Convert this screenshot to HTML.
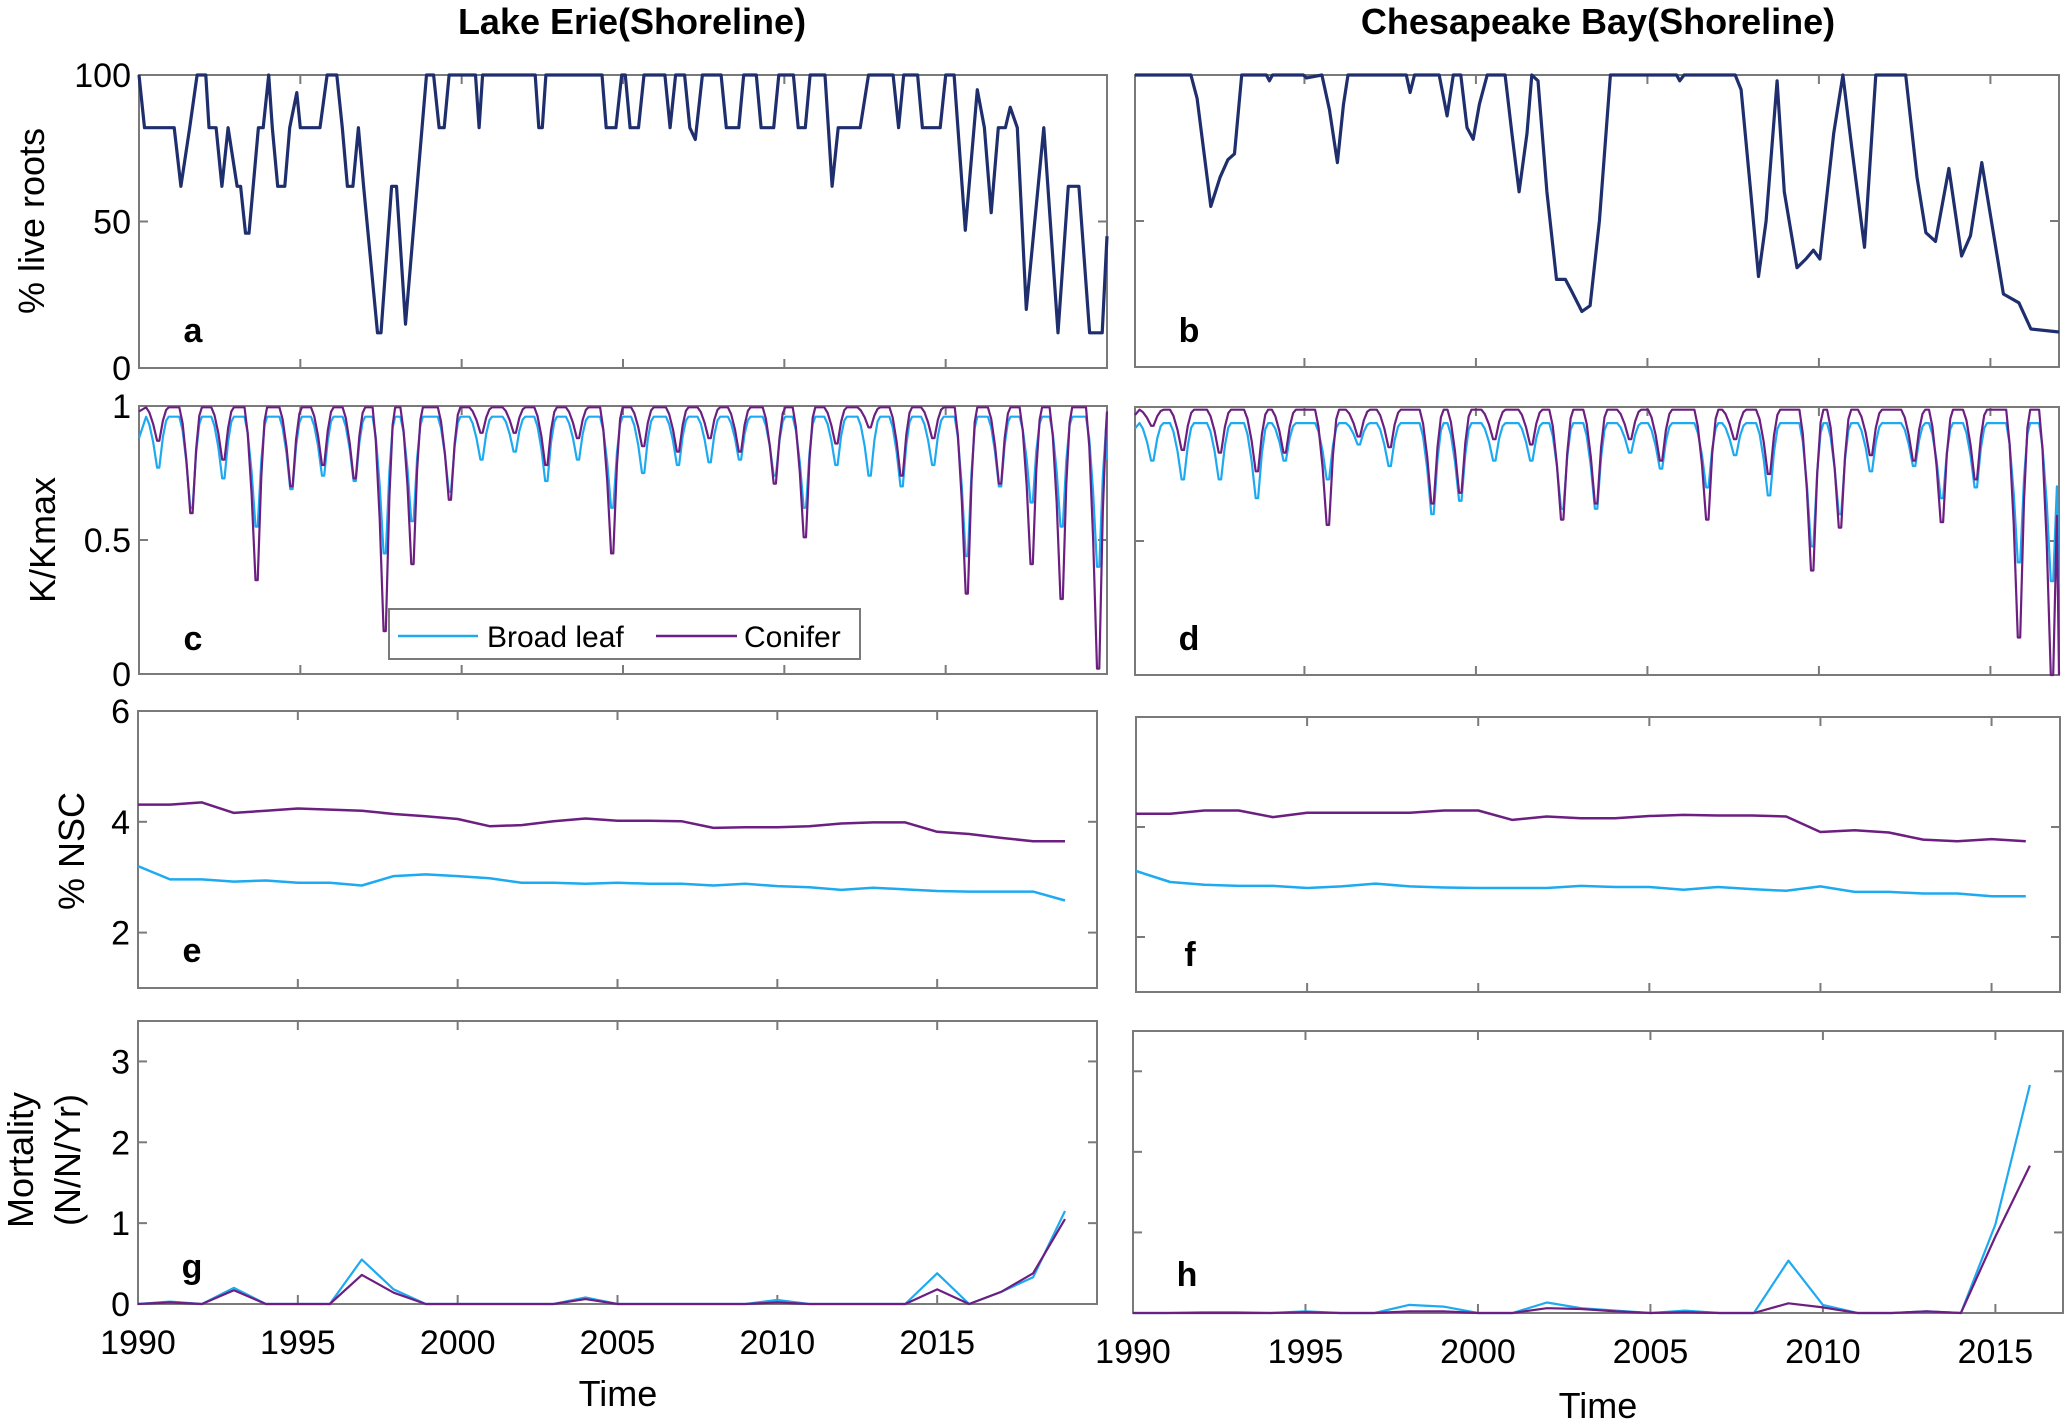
<!DOCTYPE html>
<html>
<head>
<meta charset="utf-8">
<style>
  html,body{margin:0;padding:0;background:#fff;}
  svg{display:block;font-family:"Liberation Sans",sans-serif;}
</style>
</head>
<body>
<svg id="fig" width="2067" height="1424" viewBox="0 0 2067 1424" xmlns="http://www.w3.org/2000/svg">
  <text x="632" y="34" font-size="36" font-weight="bold" text-anchor="middle">Lake Erie(Shoreline)</text>
  <text x="1598" y="34" font-size="36" font-weight="bold" text-anchor="middle">Chesapeake Bay(Shoreline)</text>
  <text transform="translate(44,221) rotate(-90)" font-size="36" text-anchor="middle">% live roots</text>
  <text transform="translate(55,540) rotate(-90)" font-size="36" text-anchor="middle">K/Kmax</text>
  <text transform="translate(84,851) rotate(-90)" font-size="36" text-anchor="middle">% NSC</text>
  <text transform="translate(33,1160) rotate(-90)" font-size="36" text-anchor="middle">Mortality</text>
  <text transform="translate(80,1160) rotate(-90)" font-size="36" text-anchor="middle">(N/N/Yr)</text>
  <text x="618" y="1406" font-size="36" text-anchor="middle">Time</text>
  <text x="1598" y="1418" font-size="36" text-anchor="middle">Time</text>
  <g id="layer"></g>
</svg>
<script>
// ---------- data ----------
const xTickYears = [1990, 1995, 2000, 2005, 2010, 2015];
const xTickLabels = ["1990", "1995", "2000", "2005", "2010", "2015"];

// panel a : Lake Erie % live roots
const aYears = [1990,1990.17,1991.09,1991.3,1991.57,1991.8,1992.07,1992.17,1992.39,1992.57,1992.76,1993.04,1993.15,1993.3,1993.41,1993.7,1993.85,1994.02,1994.13,1994.3,1994.52,1994.67,1994.89,1995.0,1995.61,1995.83,1996.13,1996.3,1996.46,1996.63,1996.8,1996.96,1997.39,1997.5,1997.83,1997.98,1998.26,1998.91,1999.13,1999.3,1999.46,1999.61,2000.43,2000.54,2000.65,2002.28,2002.39,2002.5,2002.61,2004.35,2004.48,2004.78,2004.96,2005.07,2005.22,2005.48,2005.65,2006.3,2006.46,2006.63,2006.91,2007.07,2007.24,2007.46,2008.04,2008.2,2008.59,2008.74,2009.13,2009.28,2009.67,2009.83,2010.28,2010.43,2010.65,2010.8,2011.26,2011.48,2011.67,2012.35,2012.61,2013.37,2013.54,2013.7,2014.13,2014.28,2014.83,2015.0,2015.26,2015.61,2015.98,2016.2,2016.41,2016.63,2016.85,2017.0,2017.22,2017.5,2018.04,2018.48,2018.8,2019.13,2019.46,2019.85,2020.0];
const aValues = [100,82,82,62,82,100,100,82,82,62,82,62,62,46,46,82,82,100,82,62,62,82,94,82,82,100,100,82,62,62,82,62,12,12,62,62,15,100,100,82,82,100,100,82,100,100,82,82,100,100,82,82,100,100,82,82,100,100,82,100,100,82,78,100,100,82,82,100,100,82,82,100,100,82,82,100,100,62,82,82,100,100,82,100,100,82,82,100,100,47,95,82,53,82,82,89,82,20,82,12,62,62,12,12,45];

// panel b : Chesapeake Bay % live roots
const bYears = [1990.06,1991.69,1991.87,1992.27,1992.54,1992.77,1992.96,1993.17,1993.89,1993.98,1994.07,1994.97,1995.06,1995.51,1995.73,1995.96,1996.14,1996.27,1997.97,1998.08,1998.21,1998.93,1999.16,1999.34,1999.56,1999.74,1999.92,2000.1,2000.33,2000.85,2001.05,2001.26,2001.49,2001.63,2001.81,2002.07,2002.35,2002.61,2002.79,2003.09,2003.33,2003.6,2003.92,2005.85,2005.94,2006.07,2007.56,2007.73,2008.01,2008.24,2008.46,2008.78,2008.99,2009.36,2009.62,2009.84,2010.03,2010.43,2010.7,2010.96,2011.33,2011.66,2012.53,2012.86,2013.12,2013.4,2013.79,2014.16,2014.42,2014.75,2015.1,2015.38,2015.83,2016.18,2017.0];
const bValues = [100,100,92,55,65,71,73,100,100,98,100,100,99,100,88,70,90,100,100,94,100,100,86,100,100,82,78,90,100,100,80,60,80,100,98,60,30,30,26,19,21,50,100,100,98,100,100,95,60,31,50,98,60,34,37,40,37,80,100,75,41,100,100,65,46,43,68,38,45,70,45,25,22,13,12];

// panel c : Lake Erie K/Kmax dips
const cDipYears = [1990.6,1991.63,1992.62,1993.65,1994.73,1995.71,1996.69,1997.62,1998.48,1999.64,2000.62,2001.65,2002.63,2003.61,2004.67,2005.63,2006.71,2007.69,2008.63,2009.71,2010.64,2011.62,2012.65,2013.64,2014.62,2015.66,2016.69,2017.67,2018.6,2019.73];
const cBroadMins = [0.77,0.62,0.73,0.55,0.69,0.74,0.72,0.45,0.57,0.68,0.80,0.83,0.72,0.80,0.62,0.75,0.78,0.79,0.80,0.74,0.62,0.78,0.74,0.70,0.78,0.44,0.70,0.64,0.55,0.40];
const cConiferMins = [0.87,0.60,0.80,0.35,0.70,0.78,0.73,0.16,0.41,0.65,0.90,0.90,0.78,0.88,0.45,0.85,0.83,0.88,0.83,0.71,0.51,0.86,0.92,0.74,0.88,0.30,0.71,0.41,0.28,0.02];
const cPlateau = [0.96, 0.995];  // broad, conifer
const cStart = [0.88, 0.98];
const cEnd = [0.80, 0.98];

// panel d : Chesapeake Bay K/Kmax dips
const dDipYears = [1990.57,1991.46,1992.54,1993.62,1994.43,1995.69,1996.59,1997.49,1998.74,1999.55,2000.54,2001.62,2002.52,2003.51,2004.5,2005.4,2006.75,2007.56,2008.55,2009.81,2010.62,2011.52,2012.78,2013.59,2014.58,2015.84,2016.8];
const dBroadMins = [0.80,0.73,0.73,0.66,0.80,0.73,0.86,0.78,0.60,0.65,0.80,0.80,0.62,0.62,0.83,0.77,0.70,0.82,0.67,0.48,0.60,0.76,0.78,0.66,0.70,0.42,0.35];
const dConiferMins = [0.93,0.84,0.83,0.76,0.83,0.56,0.89,0.85,0.64,0.68,0.88,0.86,0.58,0.64,0.88,0.80,0.58,0.88,0.75,0.39,0.55,0.82,0.80,0.57,0.73,0.14,0.0];
const dPlateau = [0.94, 0.99];
const dStart = [0.92, 0.97];
const dEnd = [0.33, 0.0];

// panel e : Lake Erie %NSC
const eYears = [1990,1991,1992,1993,1994,1995,1996,1997,1998,1999,2000,2001,2002,2003,2004,2005,2006,2007,2008,2009,2010,2011,2012,2013,2014,2015,2016,2017,2018,2019];
const eBroad = [3.20,2.96,2.96,2.92,2.94,2.90,2.90,2.85,3.02,3.05,3.02,2.98,2.90,2.90,2.88,2.90,2.88,2.88,2.85,2.88,2.84,2.82,2.77,2.81,2.78,2.75,2.74,2.74,2.74,2.58];
const eConifer = [4.31,4.31,4.35,4.16,4.20,4.24,4.22,4.20,4.14,4.10,4.05,3.92,3.94,4.01,4.06,4.02,4.02,4.01,3.89,3.90,3.90,3.92,3.97,3.99,3.99,3.82,3.78,3.71,3.65,3.65];

// panel f : Chesapeake Bay %NSC
const fYears = [1990,1991,1992,1993,1994,1995,1996,1997,1998,1999,2000,2001,2002,2003,2004,2005,2006,2007,2008,2009,2010,2011,2012,2013,2014,2015,2016];
const fBroad = [3.20,3.00,2.95,2.93,2.93,2.89,2.92,2.97,2.92,2.90,2.89,2.89,2.89,2.93,2.91,2.91,2.86,2.91,2.87,2.84,2.92,2.82,2.82,2.79,2.79,2.74,2.74];
const fConifer = [4.24,4.24,4.30,4.30,4.18,4.26,4.26,4.26,4.26,4.30,4.30,4.13,4.19,4.16,4.16,4.20,4.22,4.21,4.21,4.19,3.91,3.94,3.90,3.77,3.74,3.78,3.74];

// panel g : Lake Erie mortality
const gYears = eYears;
const gBroad = [0,0.03,0,0.2,0,0,0,0.55,0.18,0,0,0,0,0,0.08,0,0,0,0,0,0.05,0,0,0,0,0.38,0,0.15,0.33,1.15];
const gConifer = [0,0.02,0,0.17,0,0,0,0.36,0.14,0,0,0,0,0,0.06,0,0,0,0,0,0.02,0,0,0,0,0.18,0,0.15,0.38,1.05];

// panel h : Chesapeake Bay mortality
const hYears = fYears;
const hBroad = [0,0,0.01,0.01,0,0.02,0,0,0.1,0.08,0,0,0.13,0.06,0.03,0,0.03,0,0,0.65,0.1,0,0,0.02,0,1.1,2.83];
const hConifer = [0,0,0,0,0,0.01,0,0,0.02,0.02,0,0,0.06,0.05,0.02,0,0.01,0,0,0.12,0.07,0,0,0.02,0,0.95,1.83];

// ---------- drawing ----------
const NS = "http://www.w3.org/2000/svg";
const layer = document.getElementById("layer");
const NAVY = "#1f2f6e", CYAN = "#1eaaf0", PURPLE = "#6c1f80", AXIS = "#7a7a7a";

function mk(tag, attrs, parent) {
  const el = document.createElementNS(NS, tag);
  for (const k in attrs) el.setAttribute(k, attrs[k]);
  (parent || layer).appendChild(el);
  return el;
}

function makeAxes(p) {
  const sx = v => p.l + (v - p.x0) / (p.x1 - p.x0) * (p.r - p.l);
  const sy = v => p.b - (v - p.y0) / (p.y1 - p.y0) * (p.b - p.t);
  const g = mk("g", {});
  
  
  const frame = mk("rect", {x: p.l, y: p.t, width: p.r - p.l, height: p.b - p.t, fill: "none", stroke: AXIS, "stroke-width": 2}, g);
  
  
  xTickYears.forEach((yr, i) => {
    const x = sx(yr);
    if (x < p.l - 1 || x > p.r + 1) return;
    const t1 = mk("line", {x1: x, x2: x, y1: p.b, y2: p.b - 9, stroke: AXIS, "stroke-width": 2}, g);
    
    
    const t2 = mk("line", {x1: x, x2: x, y1: p.t, y2: p.t + 9, stroke: AXIS, "stroke-width": 2}, g);
    
    
    if (p.xlabels) {
      const tx = mk("text", {x: x, y: p.b + 50, "font-size": 34, "text-anchor": "middle"}, g);
      
      
      tx.textContent = xTickLabels[i];
    }
  });
  p.yticks.forEach((v, i) => {
    const y = sy(v);
    const t1 = mk("line", {x1: p.l, x2: p.l + 9, y1: y, y2: y, stroke: AXIS, "stroke-width": 2}, g);
    
    
    const t2 = mk("line", {x1: p.r, x2: p.r - 9, y1: y, y2: y, stroke: AXIS, "stroke-width": 2}, g);
    
    
    if (p.ylabels) {
      const tx = mk("text", {x: p.l - 8, y: y + 12, "font-size": 34, "text-anchor": "end"}, g);
      
      
      tx.textContent = p.ylabels[i];
    }
  });
  const lab = mk("text", {x: p.l + 54, y: p.labelY, "font-size": 34, "font-weight": "bold", "text-anchor": "middle"}, g);
  
  
  lab.textContent = p.letter;
  return {sx, sy, g};
}

function drawLine(ax, xs, ys, color, width, name) {
  const pts = xs.map((x, i) => ax.sx(x).toFixed(1) + "," + ax.sy(ys[i]).toFixed(1)).join(" ");
  const pl = mk("polyline", {points: pts, fill: "none", stroke: color, "stroke-width": width, "stroke-linejoin": "round"}, ax.g);
  
  
}

function dipSeries(x0, x1, years, mins, plateau, start, end) {
  const xs = [x0], ys = [start];
  years.forEach((yr, i) => {
    const d = plateau - mins[i];
    xs.push(yr - 0.38); ys.push(plateau);
    xs.push(yr - 0.28); ys.push(plateau - d * 0.15);
    xs.push(yr - 0.16); ys.push(plateau - d * 0.5);
    xs.push(yr - 0.04); ys.push(mins[i]);
    xs.push(yr + 0.03); ys.push(mins[i]);
    xs.push(yr + 0.14); ys.push(plateau - d * 0.4);
    xs.push(yr + 0.24); ys.push(plateau - d * 0.08);
    xs.push(yr + 0.32); ys.push(plateau);
  });
  xs.push(x1); ys.push(end);
  const ox = [], oy = [];
  xs.forEach((x, i) => { if (x >= x0 && x <= x1 && (ox.length === 0 || x > ox[ox.length - 1])) { ox.push(x); oy.push(ys[i]); } });
  return [ox, oy];
}

// panel a
const axA = makeAxes({name: "panel-a", letter: "a", l: 139, r: 1107, t: 75, b: 368, x0: 1990, x1: 2020, y0: 0, y1: 100, yticks: [0, 50, 100], ylabels: ["0", "50", "100"], labelY: 342});
drawLine(axA, aYears, aValues, NAVY, 3.2, "live-roots-line-a");
// panel b
const axB = makeAxes({name: "panel-b", letter: "b", l: 1135, r: 2059, t: 75, b: 367, x0: 1990.06, x1: 2017.0, y0: 0, y1: 100, yticks: [0, 50, 100], labelY: 342});
drawLine(axB, bYears, bValues, NAVY, 3.2, "live-roots-line-b");
// panel c
const axC = makeAxes({name: "panel-c", letter: "c", l: 139, r: 1107, t: 406, b: 674, x0: 1990, x1: 2020, y0: 0, y1: 1, yticks: [0, 0.5, 1], ylabels: ["0", "0.5", "1"], labelY: 650});
let s = dipSeries(1990, 2020, cDipYears, cBroadMins, cPlateau[0], cStart[0], cEnd[0]);
drawLine(axC, s[0], s[1], CYAN, 2.2, "broad-leaf-line-c");
s = dipSeries(1990, 2020, cDipYears, cConiferMins, cPlateau[1], cStart[1], cEnd[1]);
drawLine(axC, s[0], s[1], PURPLE, 2.2, "conifer-line-c");
// panel d
const axD = makeAxes({name: "panel-d", letter: "d", l: 1135, r: 2059, t: 407, b: 675, x0: 1990.06, x1: 2017.0, y0: 0, y1: 1, yticks: [0, 0.5, 1], labelY: 650});
s = dipSeries(1990.06, 2017.0, dDipYears, dBroadMins, dPlateau[0], dStart[0], dEnd[0]);
drawLine(axD, s[0], s[1], CYAN, 2.2, "broad-leaf-line-d");
s = dipSeries(1990.06, 2017.0, dDipYears, dConiferMins, dPlateau[1], dStart[1], dEnd[1]);
drawLine(axD, s[0], s[1], PURPLE, 2.2, "conifer-line-d");
// panel e
const axE = makeAxes({name: "panel-e", letter: "e", l: 138, r: 1097, t: 711, b: 988, x0: 1990, x1: 2020, y0: 1, y1: 6, yticks: [2, 4, 6], ylabels: ["2", "4", "6"], labelY: 962});
drawLine(axE, eYears, eBroad, CYAN, 2.5, "broad-leaf-line-e");
drawLine(axE, eYears, eConifer, PURPLE, 2.5, "conifer-line-e");
// panel f
const axF = makeAxes({name: "panel-f", letter: "f", l: 1136, r: 2060, t: 717, b: 992, x0: 1990, x1: 2017.0, y0: 1, y1: 6, yticks: [2, 4, 6], labelY: 966});
drawLine(axF, fYears, fBroad, CYAN, 2.5, "broad-leaf-line-f");
drawLine(axF, fYears, fConifer, PURPLE, 2.5, "conifer-line-f");
// panel g
const axG = makeAxes({name: "panel-g", letter: "g", l: 138, r: 1097, t: 1021, b: 1304, x0: 1990, x1: 2020, y0: 0, y1: 3.5, yticks: [0, 1, 2, 3], ylabels: ["0", "1", "2", "3"], xlabels: true, labelY: 1278});
drawLine(axG, gYears, gBroad, CYAN, 2.2, "broad-leaf-line-g");
drawLine(axG, gYears, gConifer, PURPLE, 2.2, "conifer-line-g");
// panel h
const axH = makeAxes({name: "panel-h", letter: "h", l: 1133, r: 2063, t: 1031, b: 1313, x0: 1990, x1: 2016.96, y0: 0, y1: 3.5, yticks: [0, 1, 2, 3], xlabels: true, labelY: 1286});
drawLine(axH, hYears, hBroad, CYAN, 2.2, "broad-leaf-line-h");
drawLine(axH, hYears, hConifer, PURPLE, 2.2, "conifer-line-h");

// legend in panel c
const lg = mk("g", {});


const lbox = mk("rect", {x: 389, y: 609, width: 471, height: 50, fill: "#fff", stroke: AXIS, "stroke-width": 2}, lg);


const l1 = mk("line", {x1: 398, x2: 478, y1: 636, y2: 636, stroke: CYAN, "stroke-width": 2.5}, lg);


const t1 = mk("text", {x: 487, y: 647, "font-size": 30}, lg);


t1.textContent = "Broad leaf";
const l2 = mk("line", {x1: 656, x2: 737, y1: 636, y2: 636, stroke: PURPLE, "stroke-width": 2.5}, lg);


const t2 = mk("text", {x: 744, y: 647, "font-size": 30}, lg);


t2.textContent = "Conifer";
</script>
</body>
</html>
